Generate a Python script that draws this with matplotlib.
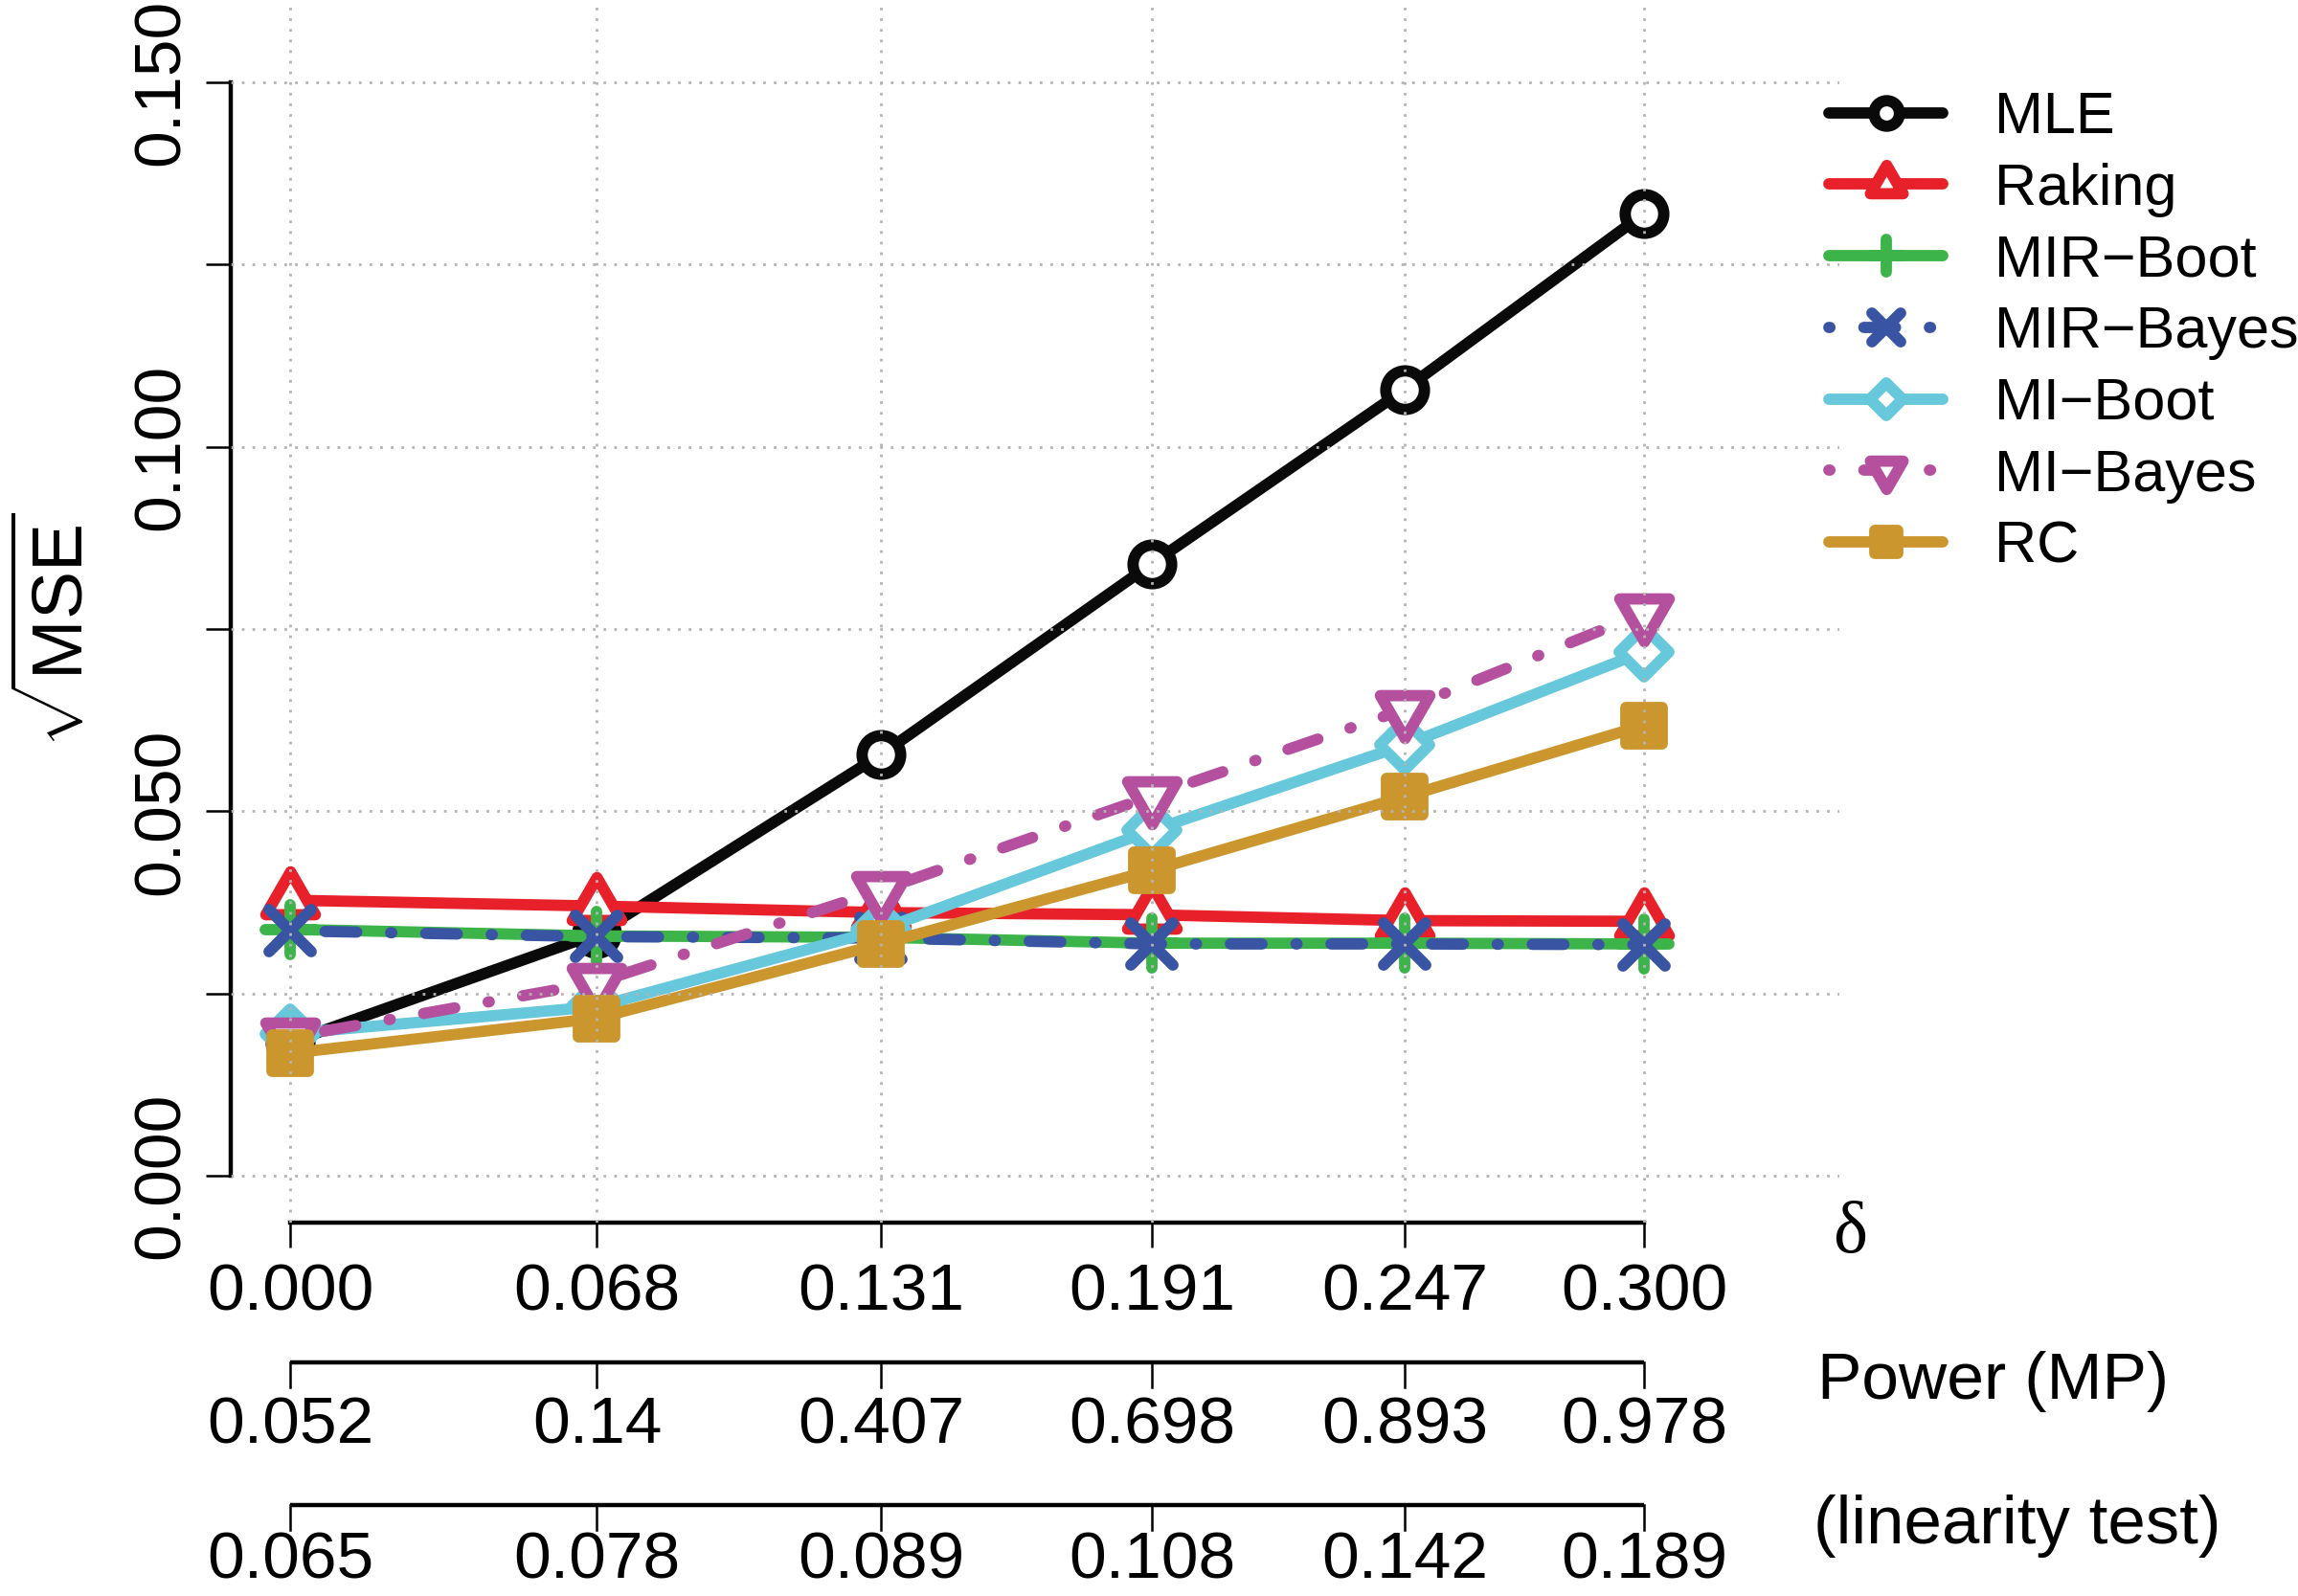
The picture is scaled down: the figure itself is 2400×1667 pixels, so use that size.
"""sqrt(MSE) by effect size delta, with power rows under the x axis."""

import matplotlib

matplotlib.use("Agg")
import matplotlib.pyplot as plt
import matplotlib.transforms as mtransforms
import numpy as np
from matplotlib.markers import MarkerStyle
from matplotlib.path import Path

plt.rcParams["font.family"] = ["Liberation Sans", "DejaVu Sans"]
plt.rcParams["mathtext.fontset"] = "custom"
plt.rcParams["mathtext.rm"] = "Liberation Sans"
plt.rcParams["mathtext.it"] = "Liberation Sans:italic"

DELTA = [0.000, 0.068, 0.131, 0.191, 0.247, 0.300]
DELTA_LABELS = ["0.000", "0.068", "0.131", "0.191", "0.247", "0.300"]
POWER_LABELS = ["0.052", "0.14", "0.407", "0.698", "0.893", "0.978"]
LINEARITY_LABELS = ["0.065", "0.078", "0.089", "0.108", "0.142", "0.189"]
Y_TICKS = [0.000, 0.025, 0.050, 0.075, 0.100, 0.125, 0.150]

MLE = [0.0183, 0.0332, 0.0578, 0.0840, 0.1079, 0.1320]
RAKING = [0.0378, 0.0370, 0.0361, 0.0358, 0.0350, 0.0349]
MIR_BOOT = [0.0338, 0.0329, 0.0327, 0.0319, 0.0319, 0.0318]
MIR_BAYES = [0.0336, 0.0328, 0.0326, 0.0318, 0.0318, 0.0317]
MI_BOOT = [0.0195, 0.0232, 0.0338, 0.0474, 0.0591, 0.0719]
MI_BAYES = [0.0190, 0.0265, 0.0392, 0.0521, 0.0640, 0.0772]
RC = [0.0168, 0.0216, 0.0318, 0.0419, 0.0520, 0.0618]

NAMES = ["MLE", "Raking", "MIR\u2212Boot", "MIR\u2212Bayes", "MI\u2212Boot", "MI\u2212Bayes", "RC"]
COLORS = ["#0a0a0a", "#e8202a", "#3cb44a", "#3a54a4", "#66c8da", "#b5509f", "#cc962f"]

# equilateral triangles centred like R's pch 2 / pch 6
TRI_UP = Path([(0, 1), (-0.866, -0.5), (0.866, -0.5), (0, 1)], closed=True)
TRI_DOWN = Path([(0, -1), (-0.866, 0.5), (0.866, 0.5), (0, -1)], closed=True)
DOTDASH = (0, (0.1, 3.0, 2.8, 3.0))
LW = 8.5

styles = [
    dict(marker=MarkerStyle("o"), ms=29, ls="-", mfc="white"),
    dict(marker=MarkerStyle(TRI_UP, joinstyle="round"), ms=43, ls="-", mfc="white"),
    dict(marker=MarkerStyle("+", capstyle="round"), ms=38, ls="-", mfc="white"),
    dict(marker=MarkerStyle("x", capstyle="round"), ms=32, ls=DOTDASH, mfc="white"),
    dict(marker=MarkerStyle("D", joinstyle="round"), ms=26, ls="-", mfc="white"),
    dict(marker=MarkerStyle(TRI_DOWN, joinstyle="round"), ms=43, ls=DOTDASH, mfc="white"),
    dict(marker=MarkerStyle("s", joinstyle="round"), ms=27, ls="-", mfc=None),
]
series = [MLE, RAKING, MIR_BOOT, MIR_BAYES, MI_BOOT, MI_BAYES, RC]

fig = plt.figure(figsize=(24, 16.67), dpi=100)
ax = fig.add_axes([0.1003, 0.2341, 0.70, 0.7659])
ax.set_xlim(-0.0132, 0.3432)
ax.set_ylim(-0.0064, 0.1613)

for name, color, values, st in zip(NAMES, COLORS, series, styles):
    ax.plot(
        DELTA,
        values,
        color=color,
        linestyle=st["ls"],
        linewidth=LW,
        marker=st["marker"],
        markersize=st["ms"],
        markeredgewidth=LW,
        markerfacecolor=st["mfc"] if st["mfc"] else color,
        markeredgecolor=color,
        dash_capstyle="round",
        solid_capstyle="round",
        solid_joinstyle="round",
        label=name,
        clip_on=False,
        zorder=2,
    )

# R style axes
for side in ["top", "right"]:
    ax.spines[side].set_visible(False)
ax.spines["left"].set_bounds(0, 0.15)
ax.spines["bottom"].set_bounds(0, 0.3)
ax.spines["left"].set_linewidth(3.2)
ax.spines["bottom"].set_linewidth(3.2)
ax.set_yticks(Y_TICKS)
ax.set_yticklabels([f"{v:.3f}" if round(v / 0.05, 6).is_integer() else "" for v in Y_TICKS])
ax.set_xticks(DELTA)
ax.set_xticklabels(DELTA_LABELS)
ax.tick_params(axis="both", direction="out", length=19, width=1.8, labelsize=50)
ax.tick_params(axis="x", pad=11)
ax.tick_params(axis="y", pad=9.5)
for label in ax.get_yticklabels():
    label.set_rotation(90)
    label.set_va("center")

ax.set_axisbelow(False)
ax.grid(True, color="#b4b4b4", linestyle=(0, (1, 3.0)), linewidth=2.0)

# extra rows under the delta axis
fig_h = 1667.0
blend = mtransforms.blended_transform_factory(ax.transData, fig.transFigure)
for line_px, label_px, labels in [(1423, 1489, POWER_LABELS), (1572, 1630, LINEARITY_LABELS)]:
    y_line = 1 - line_px / fig_h
    y_tick = 1 - (line_px + 26.4) / fig_h
    y_lab = 1 - label_px / fig_h
    ax.plot([DELTA[0], DELTA[-1]], [y_line, y_line], color="black", lw=3.2,
            transform=blend, clip_on=False, solid_capstyle="butt")
    for x, lab in zip(DELTA, labels):
        ax.plot([x, x], [y_line, y_tick], color="black", lw=1.8,
                transform=blend, clip_on=False)
        ax.text(x, y_lab, lab, transform=blend, ha="center", va="center", fontsize=50)

fig.text(0.805, 1 - 1289 / fig_h, "\u03b4", family=["Liberation Serif", "DejaVu Serif"],
         fontsize=55, ha="center", va="center")
fig.text(0.791, 1 - 1443 / fig_h, "Power (MP)", fontsize=50, ha="left", va="center")
fig.text(0.789, 1 - 1594 / fig_h, "(linearity test)", fontsize=51, ha="left", va="center")

fig.text(0.0254, 1 - 658 / fig_h, r"$\sqrt{\mathrm{MSE}}$", rotation=90,
         fontsize=54, ha="center", va="center")

ax.legend(
    loc="upper left",
    bbox_to_anchor=(0.7958, 0.943),
    bbox_transform=fig.transFigure,
    frameon=False,
    fontsize=44,
    handlelength=1.95,
    handletextpad=0.88,
    labelspacing=0.29,
    borderpad=0,
    borderaxespad=0,
    markerscale=0.66,
)

fig.savefig("out.png", dpi=100)
